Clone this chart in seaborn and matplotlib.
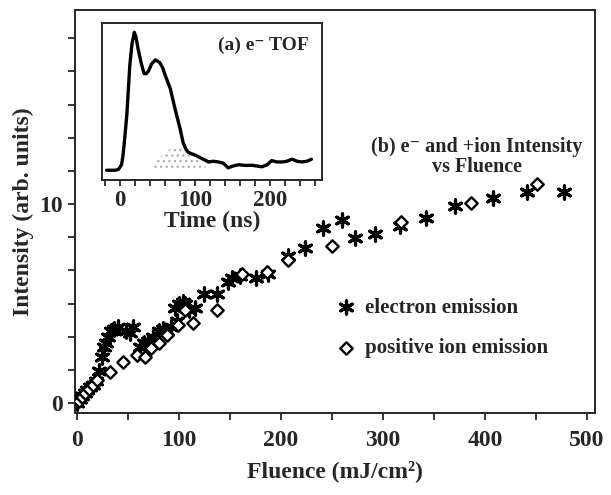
import numpy as np
import pandas as pd
import seaborn as sns
import matplotlib.pyplot as plt
from matplotlib.ticker import MultipleLocator, FixedLocator

# electron emission (asterisks)
fluencia_e = [0, 3, 5, 8, 10, 13, 16, 19, 22, 25, 26, 28, 30, 33, 36, 40, 48, 52, 55,
              62, 66, 70, 75, 80, 84, 88, 92, 98, 96, 100, 104, 106, 110, 116, 125, 137,
              148, 152, 160, 176, 187, 207, 224, 241, 260, 273, 292, 317, 342, 371, 408,
              441, 478]
intensidade_e = [0.0, 0.2, 0.35, 0.5, 0.65, 0.8, 0.9, 1.1, 1.6, 2.3, 2.8, 3.0, 3.3, 3.6,
                 3.7, 3.8, 3.6, 3.5, 3.8, 2.8, 3.0, 3.1, 3.3, 3.6, 3.7, 3.6, 3.8, 4.1, 4.8,
                 5.0, 5.1, 5.0, 4.7, 4.8, 5.5, 5.5, 6.1, 6.3, 6.4, 6.3, 6.5, 7.4, 7.8, 8.8,
                 9.2, 8.3, 8.5, 8.9, 9.3, 9.9, 10.3, 10.6, 10.6]

# positive ion emission (open diamonds)
fluencia_ion = [2, 5, 8, 12, 16, 20, 32, 45, 59, 67, 73, 80, 88, 99, 106, 114, 137, 162,
                186, 207, 250, 318, 386, 451]
intensidade_ion = [0.1, 0.3, 0.5, 0.7, 0.9, 1.15, 1.55, 2.05, 2.4, 2.3, 2.75, 3.0, 3.4,
                   3.9, 4.7, 4.0, 4.7, 6.5, 6.6, 7.2, 7.9, 9.1, 10.05, 11.0]

# inset: electron time of flight
tempo = [-18, -13, -6, -2, 2, 4, 6, 9, 11, 13, 16, 19, 21, 24, 28, 32, 35, 38, 42, 47,
         53, 57, 60, 67, 73, 80, 84, 88, 91, 95, 100, 109, 118, 124, 131, 138, 144, 150,
         158, 167, 176, 183, 189, 196, 202, 209, 216, 222, 229, 236, 242, 249, 255]
sinal = [0.0, 0.0, 0.0, 0.007, 0.04, 0.11, 0.22, 0.40, 0.58, 0.76, 0.92, 1.0, 0.97, 0.88,
         0.78, 0.70, 0.70, 0.72, 0.77, 0.80, 0.78, 0.74, 0.69, 0.59, 0.45, 0.30, 0.20,
         0.15, 0.13, 0.12, 0.11, 0.085, 0.06, 0.065, 0.06, 0.05, 0.017, 0.03, 0.04, 0.035,
         0.036, 0.03, 0.025, 0.04, 0.07, 0.06, 0.06, 0.065, 0.08, 0.065, 0.06, 0.065, 0.08]
tempo_pontos = [40, 50, 60, 70, 80, 90, 100, 110, 118]
sinal_pontos = [0.0, 0.08, 0.13, 0.16, 0.17, 0.14, 0.10, 0.05, 0.0]

sns.set_style('ticks')
plt.rcParams['font.family'] = ['Liberation Serif', 'DejaVu Serif']
plt.rcParams['font.weight'] = 'bold'
plt.rcParams['axes.labelweight'] = 'bold'

df_e = pd.DataFrame({'Fluence': fluencia_e, 'Intensity': intensidade_e})
df_ion = pd.DataFrame({'Fluence': fluencia_ion, 'Intensity': intensidade_ion})
df_tof = pd.DataFrame({'Time': tempo, 'Signal': sinal})

fig = plt.figure(figsize=(6.11, 4.95), dpi=100)
ax = fig.add_axes([0.1227, 0.1657, 0.851, 0.814])

sns.scatterplot(data=df_e, x='Fluence', y='Intensity', ax=ax, marker=(6, 2, 0),
                color='black', s=90, linewidth=2.3, label='electron emission', zorder=3)
sns.scatterplot(data=df_ion, x='Fluence', y='Intensity', ax=ax, marker='D',
                facecolor='white', edgecolor='black', s=40, linewidth=1.7,
                label='positive ion emission', zorder=4)

ax.set_xlim(-2, 508)
ax.set_ylim(-0.5, 19.75)
ax.xaxis.set_major_locator(FixedLocator([0, 100, 200, 300, 400, 500]))
ax.xaxis.set_minor_locator(MultipleLocator(50))
ax.yaxis.set_major_locator(FixedLocator([0, 10]))
ax.yaxis.set_minor_locator(FixedLocator(list(np.arange(0, 19.7, 10 / 6))))
ax.tick_params(which='both', direction='out', width=1.3, length=5, labelsize=17)
ax.tick_params(axis='x', pad=7)
for s in ax.spines.values():
    s.set_visible(True)
    s.set_linewidth(1.4)

ax.set_xlabel('Fluence (mJ/cm²)', fontsize=17, labelpad=7)
ax.set_ylabel('Intensity (arb. units)', fontsize=17, labelpad=4)

ax.text(392, 12.85, '(b) e⁻ and +ion Intensity', ha='center', va='center', fontsize=14.5)
ax.text(392, 11.85, 'vs Fluence', ha='center', va='center', fontsize=14.5)

leg = ax.legend(loc='upper left', bbox_to_anchor=(0.462, 0.333), frameon=False,
                fontsize=15, handletextpad=0.3, labelspacing=1.0, handlelength=1.2)

# inset
axi = fig.add_axes([0.167, 0.636, 0.360, 0.317])
axi.fill_between(tempo_pontos, 0, sinal_pontos, facecolor='none', edgecolor='#b0b0b0',
                 hatch='...', linewidth=0)
sns.lineplot(data=df_tof, x='Time', y='Signal', ax=axi, color='black', linewidth=2.4)
axi.set_xlim(-24, 269)
axi.set_ylim(-0.072, 1.065)
axi.xaxis.set_major_locator(FixedLocator([0, 100, 200]))
axi.xaxis.set_minor_locator(MultipleLocator(20))
axi.set_yticks([])
axi.tick_params(which='both', direction='out', width=1.3, length=4, labelsize=16.5, pad=3)
for s in axi.spines.values():
    s.set_linewidth(1.4)
axi.set_xlabel('Time (ns)', fontsize=17, labelpad=0)
axi.set_ylabel('')
axi.text(0.94, 0.86, '(a) e⁻ TOF', transform=axi.transAxes, ha='right', va='center',
         fontsize=14)

fig.savefig('out.png', dpi=100)
